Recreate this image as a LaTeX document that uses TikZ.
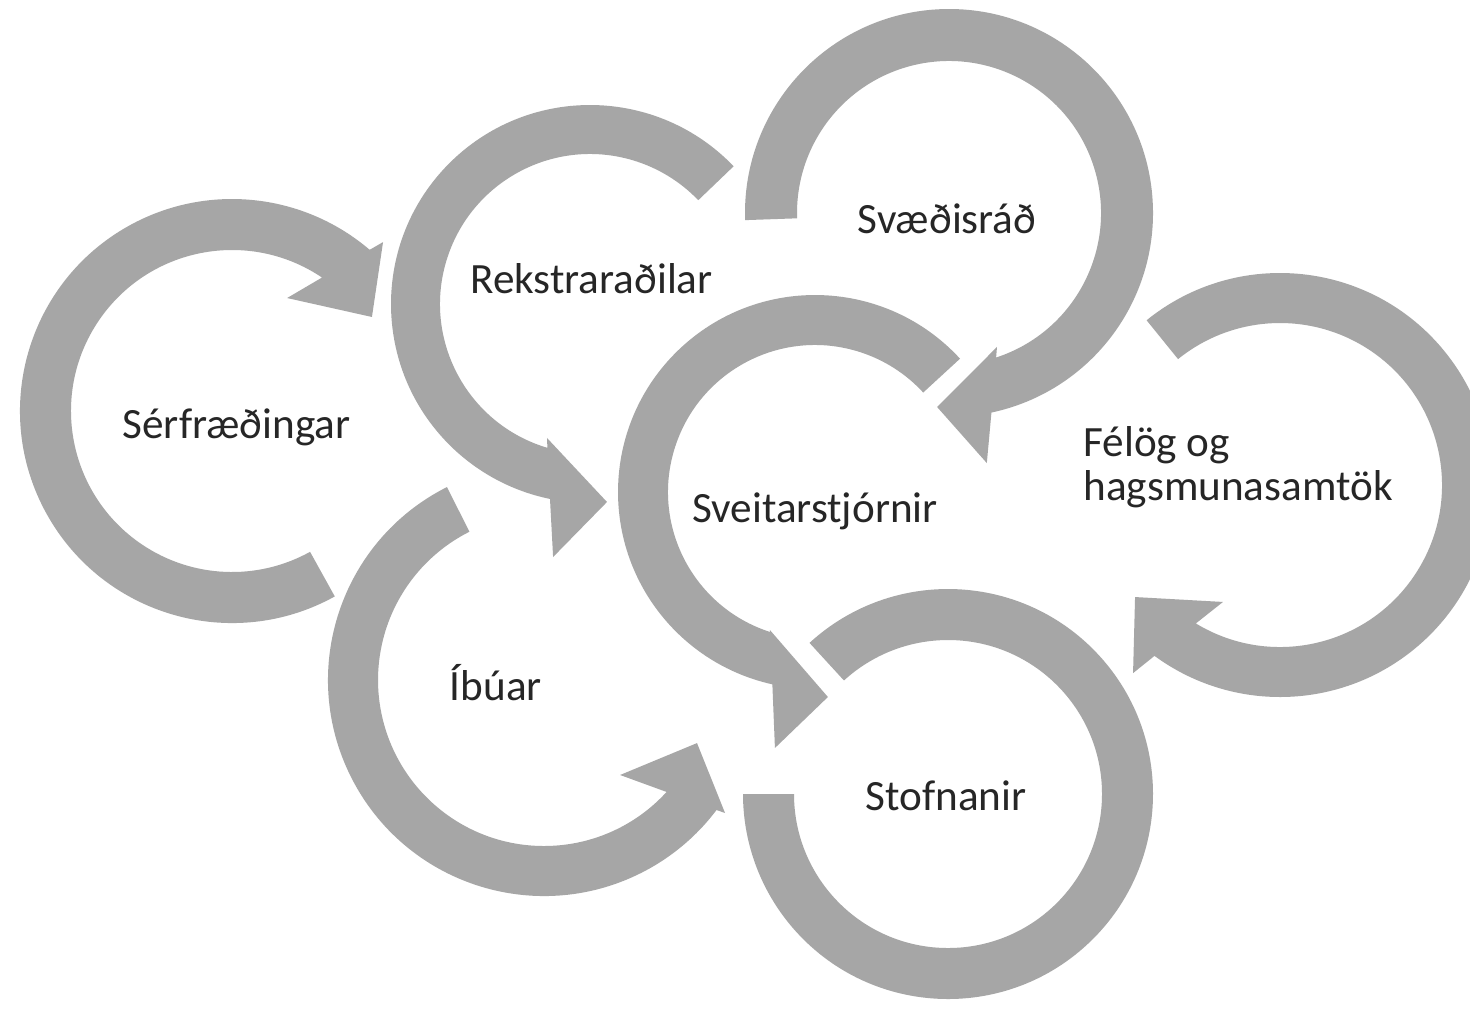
\documentclass[tikz,border=0pt]{standalone}
\usepackage{fontspec}
\setmainfont{Carlito}
\usetikzlibrary{calc}
\definecolor{ringgray}{HTML}{A6A6A6}
\definecolor{labelc}{HTML}{262626}
\begin{document}
\begin{tikzpicture}[x=0.5pt,y=-0.5pt,
  ring/.style={fill=ringgray},
  lbl/.style={text=labelc,font=\fontsize{21.6pt}{22pt}\selectfont,inner sep=0pt,anchor=base}]
\useasboundingbox (0,0) rectangle (1470,1009);
\clip (0,0) rectangle (1470,1009);
\fill[white] (0,0) rectangle (1470,1009);

% centres of the rings
\coordinate (c1) at (232,411);
\coordinate (c2) at (590,304);
\coordinate (c3) at (949,213);
\coordinate (c4) at (815,492);
\coordinate (c5) at (1280,485);
\coordinate (c6) at (544,680);
\coordinate (c7) at (948,794);

% ring 1: Serfraedingar (clockwise, head upper right)
\fill[ring] ($(c1)+(61:212)$) arc[start angle=61,end angle=310.5,radius=212]
  -- ($(c1)+(311.8:226.6)$) -- ($(c1)+(326.1:168.6)$) -- ($(c1)+(296.0:125.7)$)
  -- ($(c1)+(304.0:161)$) arc[start angle=304.0,end angle=61,radius=161] -- cycle;

% ring 2: Rekstraradilar (anticlockwise, head lower right)
\fill[ring] ($(c2)+(316.2:199)$) arc[start angle=316.2,end angle=101.6,radius=199]
  -- ($(c2)+(98.3:255.7)$) -- ($(c2)+(85.1:198.7)$) -- ($(c2)+(107.8:140.7)$)
  -- ($(c2)+(106.5:150)$) arc[start angle=106.5,end angle=316.2,radius=150] -- cycle;

% ring 3: Svaedisrad (clockwise, head lower left)
\fill[ring] ($(c3)+(178:204)$) arc[start angle=178,end angle=438.0,radius=204]
  -- ($(c3)+(81.4:252.9)$) -- ($(c3)+(93.5:194.4)$) -- ($(c3)+(70.3:142.3)$)
  -- ($(c3)+(71.95:152)$) arc[start angle=431.95,end angle=178,radius=152] -- cycle;

% ring 4: Sveitarstjornir (anticlockwise, head lower right)
\fill[ring] ($(c4)+(317.4:197)$) arc[start angle=317.4,end angle=102.5,radius=197]
  -- ($(c4)+(98.9:259.1)$) -- ($(c4)+(86.4:205.4)$) -- ($(c4)+(108.1:145.2)$)
  -- ($(c4)+(107.8:147)$) arc[start angle=107.8,end angle=317.4,radius=147] -- cycle;

% ring 5: Felog og hagsmunasamtok (clockwise, head lower left)
\fill[ring] ($(c5)+(231:212)$) arc[start angle=231,end angle=486.3,radius=212]
  -- ($(c5)+(128.0:238.7)$) -- ($(c5)+(142.3:183.2)$) -- ($(c5)+(116.0:130.1)$)
  -- ($(c5)+(121.3:162)$) arc[start angle=481.3,end angle=231,radius=162] -- cycle;

% ring 6: Ibuar (anticlockwise, head right)
\fill[ring] ($(c6)+(243.3:216)$) arc[start angle=243.3,end angle=37.0,radius=216]
  -- ($(c6)+(36.3:224.6)$) -- ($(c6)+(22.4:165.5)$) -- ($(c6)+(51.3:121.7)$)
  -- ($(c6)+(42.4:166)$) arc[start angle=42.4,end angle=243.3,radius=166] -- cycle;

% ring 7: Stofnanir (open ring, no head)
\fill[ring] ($(c7)+(227.5:205)$) arc[start angle=227.5,end angle=540,radius=205]
  -- ($(c7)+(180:154)$) arc[start angle=540,end angle=227.5,radius=154] -- cycle;

% labels
\node[lbl] (serf) at (236.5,438) {Sérfræðingar};
\node[lbl] (rekst) at (591.5,293) {Rekstraraðilar};
\node[lbl] (svaed) at (947,233) {Svæðisráð};
\node[lbl] (sveit) at (815,522) {Sveitarstjórnir};
\node[lbl,anchor=base west] (felog) at (1083,456) {Félög og};
\node[lbl,anchor=base west] (hags) at (1083,500) {hagsmunasamtök};
\node[lbl] (ibuar) at (496,700) {Íbúar};
\node[lbl] (stofn) at (946,810) {Stofnanir};
\end{tikzpicture}
\end{document}
